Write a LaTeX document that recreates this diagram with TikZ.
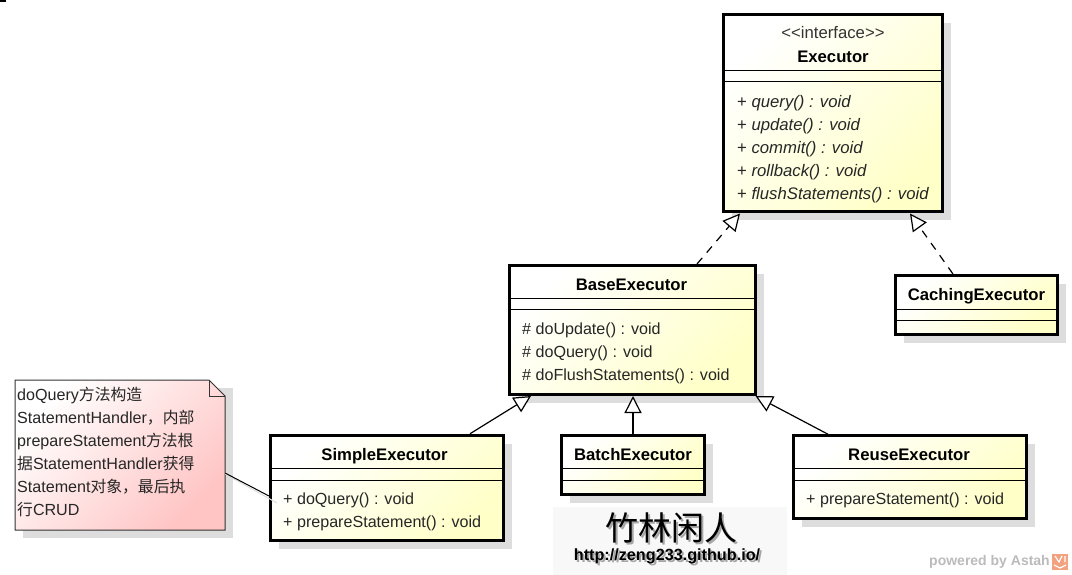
\documentclass[tikz,border=0pt]{standalone}
\usepackage{fontspec}
\setmainfont{Liberation Sans}
\newfontfamily\cjk{Noto Sans CJK SC}
\usetikzlibrary{arrows.meta,shadows}
\definecolor{classyellow}{HTML}{FFFFC8}
\definecolor{notepink}{HTML}{FFC4C4}
\definecolor{shadowgray}{HTML}{DDDDDD}
\definecolor{markgray}{HTML}{BBBBBB}
\definecolor{iconorange}{HTML}{F2A27E}
\definecolor{stampgray}{HTML}{F8F8F8}
\tikzset{
	classbox/.style={draw, line width=3pt, left color=white, right color=classyellow, shading angle=45,
			drop shadow={shadow xshift=8.5pt, shadow yshift=-8.5pt, fill=shadowgray, opacity=1}},
	classname/.style={font=\bfseries\fontsize{16.7}{18}\selectfont, inner sep=0pt, anchor=base},
	stereo/.style={font=\fontsize{16.7}{18}\selectfont, text=black!80, inner sep=0pt, anchor=base},
	members/.style={font=\fontsize{16.1}{23}\selectfont, text=black!85, align=left, anchor=north west, inner sep=0pt},
	italicmembers/.style={members, font=\fontsize{16.7}{23}\selectfont},
	sepline/.style={line width=1pt},
	notelink/.style={line width=1pt},
	realizes/.style={line width=1.2pt, dashed, dash pattern=on 8pt off 7pt, -{Triangle[open, fill=white, length=17pt, width=17pt, line width=1.2pt]}},
	extends/.style={line width=1.2pt, -{Triangle[open, fill=white, length=17pt, width=17pt, line width=1.2pt]}},
}
\newcommand{\zh}[1]{{\cjk\fontsize{15.8}{23}\selectfont #1}}
\begin{document}
\begin{tikzpicture}[x=1pt, y=-1pt]
	\useasboundingbox (0,0) rectangle (1072,575);
	\fill (0,0) rectangle (6,2);

	% classes
	\node[classbox, minimum width=219pt, minimum height=197pt] (execBox) at (833,113.5) {};
	\node[classbox, minimum width=246pt, minimum height=129pt] (baseBox) at (632.5,330) {};
	\node[classbox, minimum width=162pt, minimum height=59pt] (cachingBox) at (976.5,305) {};
	\node[classbox, minimum width=233pt, minimum height=105.5pt] (simpleBox) at (387,488) {};
	\node[classbox, minimum width=143pt, minimum height=59pt] (batchBox) at (633,465) {};
	\node[classbox, minimum width=233pt, minimum height=82.5pt] (reuseBox) at (910,477) {};

	\foreach \boxname/\ya/\yb in {execBox/71/82, baseBox/298/309, cachingBox/309/320,
			simpleBox/468/480, batchBox/468/480, reuseBox/468/480} {
			\draw[sepline] (\boxname.west |- 0,\ya) -- (\boxname.east |- 0,\ya);
			\draw[sepline] (\boxname.west |- 0,\yb) -- (\boxname.east |- 0,\yb);
		}

	\node[stereo] (execStereo) at (833,39) {<{}<interface>{}>};
	\node[classname] (execName) at (833,62.5) {Executor};
	\node[classname] (baseName) at (631.5,290) {BaseExecutor};
	\node[classname] (cachingName) at (976.5,300) {CachingExecutor};
	\node[classname] (simpleName) at (384.5,460) {SimpleExecutor};
	\node[classname] (batchName) at (633,460) {BatchExecutor};
	\node[classname] (reuseName) at (909,460) {ReuseExecutor};

	\node[italicmembers] (execOps) at (737,95) {+ \textit{query() : void}\\+ \textit{update() : void}\\+ \textit{commit() : void}\\+ \textit{rollback() : void}\\+ \textit{flushStatements() : void}};
	\node[members] (baseOps) at (522,323) {\# doUpdate() : void\\\# doQuery() : void\\\# doFlushStatements() : void};
	\node[members] (simpleOps) at (283,493) {+ doQuery() : void\\+ prepareStatement() : void};
	\node[members] (reuseOps) at (806,493) {+ prepareStatement() : void};

	% note
	\path[fill=shadowgray] (23,388) -- (233,388) -- (233,538) -- (23,538) -- cycle;
	\path[draw=black!80, line width=1pt, left color=white, right color=notepink, shading angle=45]
	(15,380) -- (209,380) -- (225,396) -- (225,530) -- (15,530) -- cycle;
	\draw[draw=black!80, line width=1pt] (209,380) -- (209,396) -- (225,396);
	\node[members, minimum width=210pt, minimum height=150pt] (noteTxt) at (15,380) {};
	\node[members] (noteLines) at (17,387) {doQuery\zh{方法构造}\\StatementHandler\zh{，内部}\\prepareStatement\zh{方法根}\\\zh{据}StatementHandler\zh{获得}\\Statement\zh{对象，最后执}\\\zh{行}CRUD};
	\draw[notelink, shadowgray] ([yshift=-19pt]noteTxt.east) -- ([xshift=8pt, yshift=-15pt]simpleBox.west);
	\draw[notelink] ([yshift=-18pt]noteTxt.east) -- ([yshift=-8pt]simpleBox.west);

	% stamp and mark
	\node[fill=stampgray, minimum width=234pt, minimum height=68pt] (stampBg) at (670,541) {};
	\node[font=\cjk\fontsize{33}{35}\selectfont, text=black!35] (stampShade) at (673,530) {竹林闲人};
	\node[font=\cjk\fontsize{33}{35}\selectfont, text=black] (stampName) at (671,528) {竹林闲人};
	\node[font=\bfseries\fontsize{16.2}{18}\selectfont, text=black!35, inner sep=0pt] (urlShade) at (669,558) {http://zeng233.github.io/};
	\node[font=\bfseries\fontsize{16.2}{18}\selectfont, inner sep=0pt] (stampUrl) at (667,556) {http://zeng233.github.io/};
	\node[font=\bfseries\fontsize{14}{16}\selectfont, text=markgray, inner sep=0pt, anchor=east] (astahMark) at (1050,562) {powered by Astah};
	\node[fill=iconorange, minimum size=16pt, inner sep=0pt] (astahIcon) at (1060,562) {};
	\draw[white, line width=1.2pt] ([shift={(-6pt,-3pt)}]astahIcon.center) -- ([shift={(0pt,-6pt)}]astahIcon.center) -- ([shift={(6pt,-3pt)}]astahIcon.center)
	([shift={(-5pt,6pt)}]astahIcon.center) -- ([shift={(-1pt,0pt)}]astahIcon.center) -- ([shift={(2pt,6pt)}]astahIcon.center)
	([shift={(5pt,0pt)}]astahIcon.center) -- ([shift={(5pt,6pt)}]astahIcon.center);

	% relations
	\draw[realizes] ([xshift=64.5pt]baseBox.north) -- ([xshift=-93pt]execBox.south);
	\draw[realizes] ([xshift=-23.5pt]cachingBox.north) -- ([xshift=77pt]execBox.south);
	\draw[extends] ([xshift=83pt]simpleBox.north) -- ([xshift=-101.5pt]baseBox.south);
	\draw[extends] (batchBox.north) -- (batchBox.north |- baseBox.south);
	\draw[extends] ([xshift=-82pt]reuseBox.north) -- ([xshift=123pt]baseBox.south);
\end{tikzpicture}
\end{document}
